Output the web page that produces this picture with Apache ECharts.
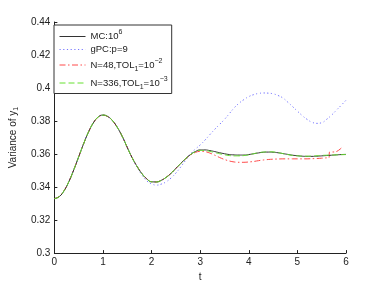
<!DOCTYPE html>
<html><head><meta charset="utf-8">
<script src="https://cdn.jsdelivr.net/npm/echarts@6/dist/echarts.min.js"></script>
<style>html,body{margin:0;padding:0;background:#fff}#c{width:382px;height:287px}</style>
</head><body><div id="c"></div>
<script>
const tGrid = [0,0.1,0.2,0.3,0.4,0.5,0.6,0.7,0.8,0.9,1.0,1.1,1.2,1.3,1.4,1.5,1.6,1.7,1.8,1.9,2.0,2.1,2.2,2.3,2.4,2.5,2.6,2.7,2.8,2.9,3.0,3.1,3.2,3.3,3.4,3.5,3.6,3.7,3.8,3.9,4.0,4.1,4.2,4.3,4.4,4.5,4.6,4.7,4.8,4.9,5.0,5.1,5.2,5.3,5.4,5.5,5.6,5.7,5.8,5.9,6.0];
const mcVals = [0.3330,0.3342,0.3378,0.3434,0.3505,0.3583,0.3661,0.3732,0.3788,0.3824,0.3836,0.3827,0.3801,0.3759,0.3705,0.3640,0.3578,0.3526,0.3482,0.3450,0.3432,0.3431,0.3441,0.3459,0.3483,0.3513,0.3543,0.3572,0.3597,0.3615,0.3625,0.3625,0.3621,0.3615,0.3608,0.3602,0.3597,0.3595,0.3594,0.3594,0.3597,0.3602,0.3607,0.3611,0.3612,0.3611,0.3608,0.3603,0.3598,0.3593,0.3590,0.3587,0.3586,0.3586,0.3587,0.3589,0.3591,0.3593,0.3595,0.3597,0.3598];
const gpcVals = [0.3330,0.3342,0.3378,0.3434,0.3505,0.3583,0.3661,0.3732,0.3788,0.3824,0.3836,0.3827,0.3801,0.3759,0.3705,0.3640,0.3576,0.3522,0.3474,0.3438,0.3420,0.3412,0.3418,0.3432,0.3455,0.3485,0.3522,0.3562,0.3600,0.3630,0.3655,0.3685,0.3718,0.3750,0.3780,0.3810,0.3845,0.3880,0.3908,0.3930,0.3948,0.3960,0.3967,0.3970,0.3969,0.3965,0.3955,0.3940,0.3915,0.3888,0.3860,0.3833,0.3810,0.3793,0.3786,0.3790,0.3810,0.3835,0.3865,0.3895,0.3926];
const n336Vals = [0.3330,0.3342,0.3378,0.3434,0.3505,0.3583,0.3661,0.3732,0.3788,0.3824,0.3836,0.3827,0.3801,0.3759,0.3705,0.3640,0.3578,0.3526,0.3482,0.3450,0.3432,0.3431,0.3441,0.3459,0.3483,0.3513,0.3543,0.3572,0.3597,0.3614,0.3622,0.3621,0.3616,0.3609,0.3602,0.3596,0.3591,0.3589,0.3589,0.3591,0.3595,0.3602,0.3608,0.3612,0.3614,0.3613,0.3609,0.3603,0.3597,0.3592,0.3589,0.3587,0.3587,0.3588,0.3590,0.3592,0.3593,0.3594,0.3595,0.3596,0.3597];
const n48T = [0,0.1,0.2,0.3,0.4,0.5,0.6,0.7,0.8,0.9,1.0,1.1,1.2,1.3,1.4,1.5,1.6,1.7,1.8,1.9,2.0,2.1,2.2,2.3,2.4,2.5,2.6,2.7,2.8,2.9,3.0,3.1,3.2,3.3,3.4,3.5,3.6,3.7,3.8,3.9,4.0,4.1,4.2,4.3,4.4,4.5,4.6,4.7,4.8,4.9,5.0,5.1,5.2,5.3,5.4,5.5,5.6,5.65,5.66,5.78,5.88,5.94];
const n48Vals = [0.3330,0.3342,0.3378,0.3434,0.3505,0.3583,0.3661,0.3732,0.3788,0.3824,0.3836,0.3827,0.3801,0.3759,0.3705,0.3640,0.3578,0.3526,0.3482,0.3450,0.3432,0.3431,0.3441,0.3459,0.3483,0.3513,0.3543,0.3571,0.3594,0.3610,0.3617,0.3615,0.3606,0.3593,0.3579,0.3567,0.3558,0.3552,0.3550,0.3550,0.3552,0.3555,0.3560,0.3564,0.3567,0.3569,0.3570,0.3571,0.3571,0.3571,0.3571,0.3571,0.3571,0.3572,0.3573,0.3575,0.3577,0.3578,0.3612,0.3613,0.3630,0.3648];
const xTicks = [0,1,2,3,4,5,6];
const yTicks = [0.3,0.32,0.34,0.36,0.38,0.4,0.42,0.44];

function pairs(ts, vs){ return ts.map((t,i)=>[t, vs[i]]); }
const FF = '"Liberation Sans", Arial, sans-serif';
const legendText = {
  'MC': '{b|MC:10}{sup|6}',
  'gPC': '{b|gPC:p=9}',
  'N48': '{b|N=48,TOL}{sub|1}{b|=10}{sup|\u22122}',
  'N336': '{b|N=336,TOL}{sub|1}{b|=10}{sup|\u22123}'
};
const chart = echarts.init(document.getElementById('c'), null, {renderer:'canvas'});
chart.setOption({
  animation:false,
  backgroundColor:'#fff',
  grid:{left:49, right:36, top:22, bottom:32},
  legend:{
    orient:'vertical', left:54, top:25,
    padding:[4,4,3,5], itemGap:3, itemWidth:26, itemHeight:10,
    backgroundColor:'#fff', borderColor:'#333', borderWidth:1, borderRadius:0,
    data:['MC','gPC','N48','N336'],
    itemStyle:{opacity:0, borderWidth:0},
    lineStyle:{width:1},
    formatter: n => legendText[n],
    textStyle:{fontFamily:FF, fontSize:9.5, color:'#222',
      rich:{
        b:{fontFamily:FF, fontSize:9.5, color:'#222'},
        sup:{fontFamily:FF, fontSize:7, color:'#222', verticalAlign:'top', lineHeight:15},
        sub:{fontFamily:FF, fontSize:7, color:'#222', verticalAlign:'bottom', lineHeight:13}
      }}
  },
  xAxis:{type:'value', min:0, max:6, interval:1,
    name:'t', nameLocation:'middle', nameGap:15,
    nameTextStyle:{fontFamily:FF, fontSize:10, color:'#222'},
    axisLine:{lineStyle:{color:'#222', width:1}},
    axisTick:{inside:true, length:3, lineStyle:{color:'#222'}},
    axisLabel:{fontFamily:FF, fontSize:10, color:'#222', margin:4,
      formatter: v => xTicks.includes(v) ? String(v) : ''},
    splitLine:{show:false}},
  yAxis:{type:'value', min:0.3, max:0.44, interval:0.02,
    name:'{b|Variance of y}{sub|1}', nameLocation:'middle', nameGap:32,
    nameTextStyle:{fontFamily:FF, fontSize:10, color:'#222',
      rich:{b:{fontFamily:FF, fontSize:10, color:'#222'}, sub:{fontFamily:FF, fontSize:7, color:'#222', verticalAlign:'bottom', lineHeight:14}}},
    axisLine:{show:true, lineStyle:{color:'#222', width:1}},
    axisTick:{show:true, inside:true, length:3, lineStyle:{color:'#222'}},
    axisLabel:{fontFamily:FF, fontSize:10, color:'#222', margin:4,
      formatter: v => { const r = Math.round(v*100)/100; return yTicks.some(y=>Math.abs(y-r)<1e-9) ? String(r) : ''; }},
    splitLine:{show:false}},
  series:[
    {name:'gPC', type:'line', data:pairs(tGrid,gpcVals), symbol:'none', smooth:true, z:1,
      lineStyle:{color:'#7777ff', width:1, type:[1.2,2.5]}, itemStyle:{color:'#7777ff'}},
    {name:'N48', type:'line', data:pairs(n48T,n48Vals), symbol:'none', smooth:0.3, z:2,
      lineStyle:{color:'#ff4a4a', width:1, type:[6,2.5,1.5,2.5]}, itemStyle:{color:'#ff4a4a'}},
    {name:'MC', type:'line', data:pairs(tGrid,mcVals), symbol:'none', smooth:true, z:3,
      lineStyle:{color:'#333333', width:1}, itemStyle:{color:'#333333'}},
    {name:'N336', type:'line', data:pairs(tGrid,n336Vals), symbol:'none', smooth:true, z:4,
      lineStyle:{color:'#66e030', width:1, type:[6,3]}, itemStyle:{color:'#66e030'}}
  ]
});
</script></body></html>
